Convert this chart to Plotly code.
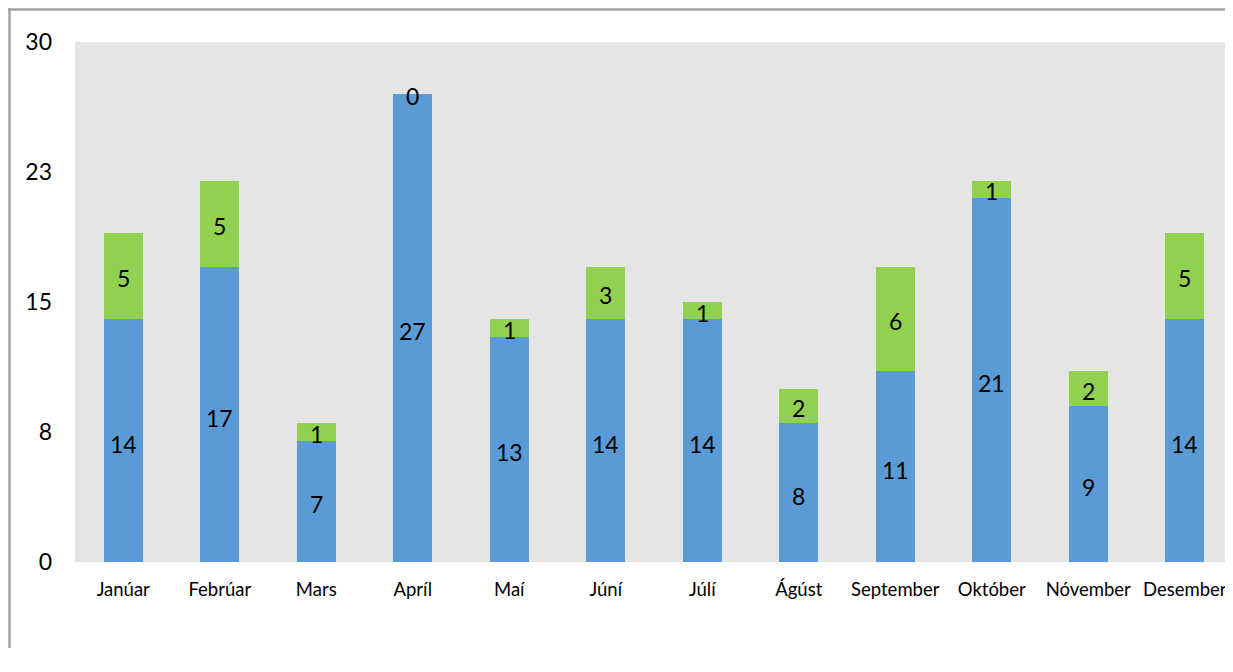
import plotly.graph_objects as go

months = ["Janúar", "Febrúar", "Mars", "Apríl", "Maí", "Júní", "Júlí",
          "Ágúst", "September", "Október", "Nóvember", "Desember"]
blue_vals = [14, 17, 7, 27, 13, 14, 14, 8, 11, 21, 9, 14]
green_vals = [5, 5, 1, 0, 1, 3, 1, 2, 6, 1, 2, 5]
ytick_vals = [0, 7.5, 15, 22.5, 30]
ytick_text = ["0", "8", "15", "23", "30"]

BLUE = "#5B9BD5"
GREEN = "#92D050"
FONT = "Lato"

# page body has an 8px margin, so the figure is offset by 8px
W, H = 1225, 640
L, R, T, B = 67, 0, 34, 86
pw, ph = W - L - R, H - T - B

fig = go.Figure()
fig.add_trace(go.Bar(x=months, y=blue_vals, marker=dict(color=BLUE, line=dict(width=0)),
                     width=0.4, hoverinfo="skip", showlegend=False))
fig.add_trace(go.Bar(x=months, y=green_vals, marker=dict(color=GREEN, line=dict(width=0)),
                     width=0.4, hoverinfo="skip", showlegend=False))

annotations = []
for m, b, g in zip(months, blue_vals, green_vals):
    annotations.append(dict(x=m, y=b / 2, xref="x", yref="y", text=str(b), showarrow=False,
                            font=dict(family=FONT, size=23, color="#000000"), yshift=-3))
    annotations.append(dict(x=m, y=b + g / 2, xref="x", yref="y", text=str(g), showarrow=False,
                            font=dict(family=FONT, size=23, color="#000000"), yshift=-2))

def px2x(px):
    return (px - L) / pw

def px2y(py):
    return (H - B - py) / ph

border = dict(color="#A0A0A0", width=2.5)
fig.add_shape(type="line", xref="paper", yref="paper",
              x0=px2x(0.3), x1=px2x(W + 50), y0=px2y(1.5), y1=px2y(1.5),
              line=border, layer="above")
fig.add_shape(type="line", xref="paper", yref="paper",
              x0=px2x(1.5), x1=px2x(1.5), y0=px2y(0.3), y1=px2y(H + 50),
              line=border, layer="above")

fig.update_layout(
    width=W, height=H,
    margin=dict(l=L, r=R, t=T, b=B, pad=0),
    barmode="stack",
    bargap=0.6,
    plot_bgcolor="#E5E5E5",
    paper_bgcolor="#FFFFFF",
    font=dict(family=FONT, color="#000000"),
    annotations=annotations,
    xaxis=dict(showgrid=False, zeroline=False, showline=False, ticks="",
               tickfont=dict(family=FONT, size=18.5), ticklabelstandoff=14,
               range=[-0.5, 11.5]),
    yaxis=dict(range=[0, 30], tickvals=ytick_vals, ticktext=ytick_text,
               showgrid=False, zeroline=False, showline=False, ticks="",
               tickfont=dict(family=FONT, size=23), ticklabelstandoff=22),
)

fig.write_html("out.html")
